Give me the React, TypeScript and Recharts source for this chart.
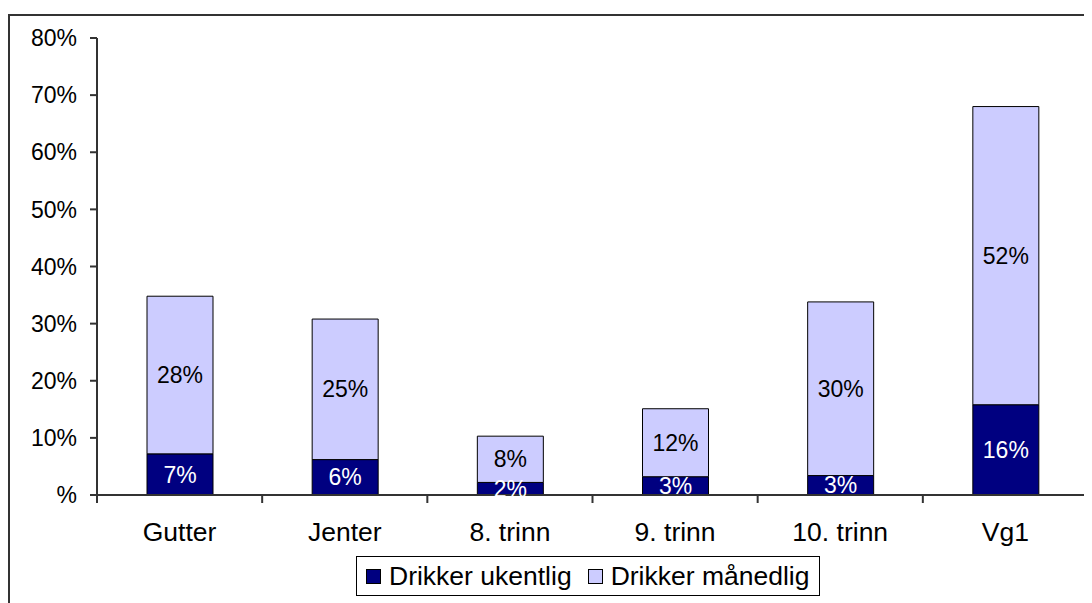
import React from "react";
import { BarChart, Bar, XAxis, YAxis, Legend, LabelList } from "recharts";

const categories = ["Gutter", "Jenter", "8. trinn", "9. trinn", "10. trinn", "Vg1"];
const ukentlig = [7.2, 6.2, 2.2, 3.2, 3.4, 15.8];
const maanedlig = [27.6, 24.6, 8.1, 11.9, 30.4, 52.2];
const yTicks = [0, 10, 20, 30, 40, 50, 60, 70, 80];

const data = categories.map((name, i) => ({
  name,
  ukentlig: ukentlig[i],
  maanedlig: maanedlig[i],
}));

const FONT = '"Liberation Sans", Arial, sans-serif';
const W = 1084;
const H = 595;
const margin = { top: 30, right: 4, left: 0, bottom: 7 };
const Y_W = 89;
const band = (W - margin.left - margin.right - Y_W) / categories.length;

const pct = (v: any) => Math.round(Number(v)) + "%";

function CategoryTick(props: any) {
  const { x, y, payload, index } = props;
  const half = band / 2;
  return (
    <g>
      <line x1={x - half} x2={x - half} y1={y} y2={y + 8} stroke="#333" strokeWidth={2} />
      {index === categories.length - 1 && (
        <line x1={x + half} x2={x + half} y1={y} y2={y + 8} stroke="#333" strokeWidth={2} />
      )}
      <text x={x} y={y + 46} textAnchor="middle" fontSize={26.5} fontFamily={FONT} fill="#000">
        {payload.value}
      </text>
    </g>
  );
}

function LegendBox() {
  const items = [
    { label: "Drikker ukentlig", color: "#000080" },
    { label: "Drikker månedlig", color: "#CCCCFF" },
  ];
  return (
    <div
      style={{
        display: "flex",
        alignItems: "center",
        height: 40,
        boxSizing: "border-box",
        border: "1px solid #000",
        padding: "0 10px 0 9px",
        background: "#fff",
        fontFamily: FONT,
        fontSize: 26.5,
        color: "#000",
        whiteSpace: "nowrap",
      }}
    >
      {items.map((it, i) => (
        <div key={it.label} style={{ display: "flex", alignItems: "center", marginLeft: i ? 16 : 0 }}>
          <span
            style={{
              display: "inline-block",
              width: 15,
              height: 15,
              boxSizing: "border-box",
              border: "1px solid #000",
              background: it.color,
              marginRight: 8,
            }}
          />
          <span>{it.label}</span>
        </div>
      ))}
    </div>
  );
}

export default function App() {
  return (
    <div style={{ position: "relative", width: W, height: H, overflow: "hidden", background: "#fff" }}>
      <div
        style={{
          position: "absolute",
          top: 6,
          left: 0,
          width: W + 100,
          height: H + 100,
          borderTop: "2px solid #333",
          borderLeft: "2px solid #333",
        }}
      />
      <div style={{ position: "absolute", top: 0, left: 0 }}>
        <BarChart width={W} height={H} data={data} margin={margin}>
          <XAxis
            dataKey="name"
            height={61}
            axisLine={{ stroke: "#333", strokeWidth: 2 }}
            tickLine={false}
            tickSize={0}
            tickMargin={0}
            interval={0}
            tick={<CategoryTick />}
          />
          <XAxis
            xAxisId="top"
            dataKey="name"
            orientation="top"
            height={0}
            tick={false}
            tickLine={false}
            axisLine={{ stroke: "#888", strokeWidth: 2 }}
          />
          <YAxis
            width={Y_W}
            domain={[0, 80]}
            ticks={yTicks}
            interval={0}
            tickFormatter={(v: number) => (v === 0 ? "%" : v + "%")}
            tickSize={7}
            tickMargin={13}
            axisLine={{ stroke: "#333", strokeWidth: 2 }}
            tickLine={{ stroke: "#333", strokeWidth: 2 }}
            tick={{ fontSize: 23, fontFamily: FONT, fill: "#000" }}
          />
          <YAxis
            yAxisId="right"
            orientation="right"
            width={0}
            domain={[0, 80]}
            tick={false}
            tickLine={false}
            axisLine={{ stroke: "#888", strokeWidth: 2 }}
          />
          <Legend
            verticalAlign="bottom"
            content={<LegendBox />}
            wrapperStyle={{ left: 348, width: "auto" }}
          />
          <Bar
            dataKey="ukentlig"
            name="Drikker ukentlig"
            stackId="a"
            fill="#000080"
            stroke="#000"
            strokeWidth={1}
            barSize={66}
            isAnimationActive={false}
          >
            <LabelList
              dataKey="ukentlig"
              position="center"
              formatter={pct}
              fill="#fff"
              fontSize={23}
              fontFamily={FONT}
            />
          </Bar>
          <Bar
            dataKey="maanedlig"
            name="Drikker månedlig"
            stackId="a"
            fill="#CCCCFF"
            stroke="#000"
            strokeWidth={1}
            barSize={66}
            isAnimationActive={false}
          >
            <LabelList
              dataKey="maanedlig"
              position="center"
              formatter={pct}
              fill="#000"
              fontSize={23}
              fontFamily={FONT}
            />
          </Bar>
        </BarChart>
      </div>
    </div>
  );
}
